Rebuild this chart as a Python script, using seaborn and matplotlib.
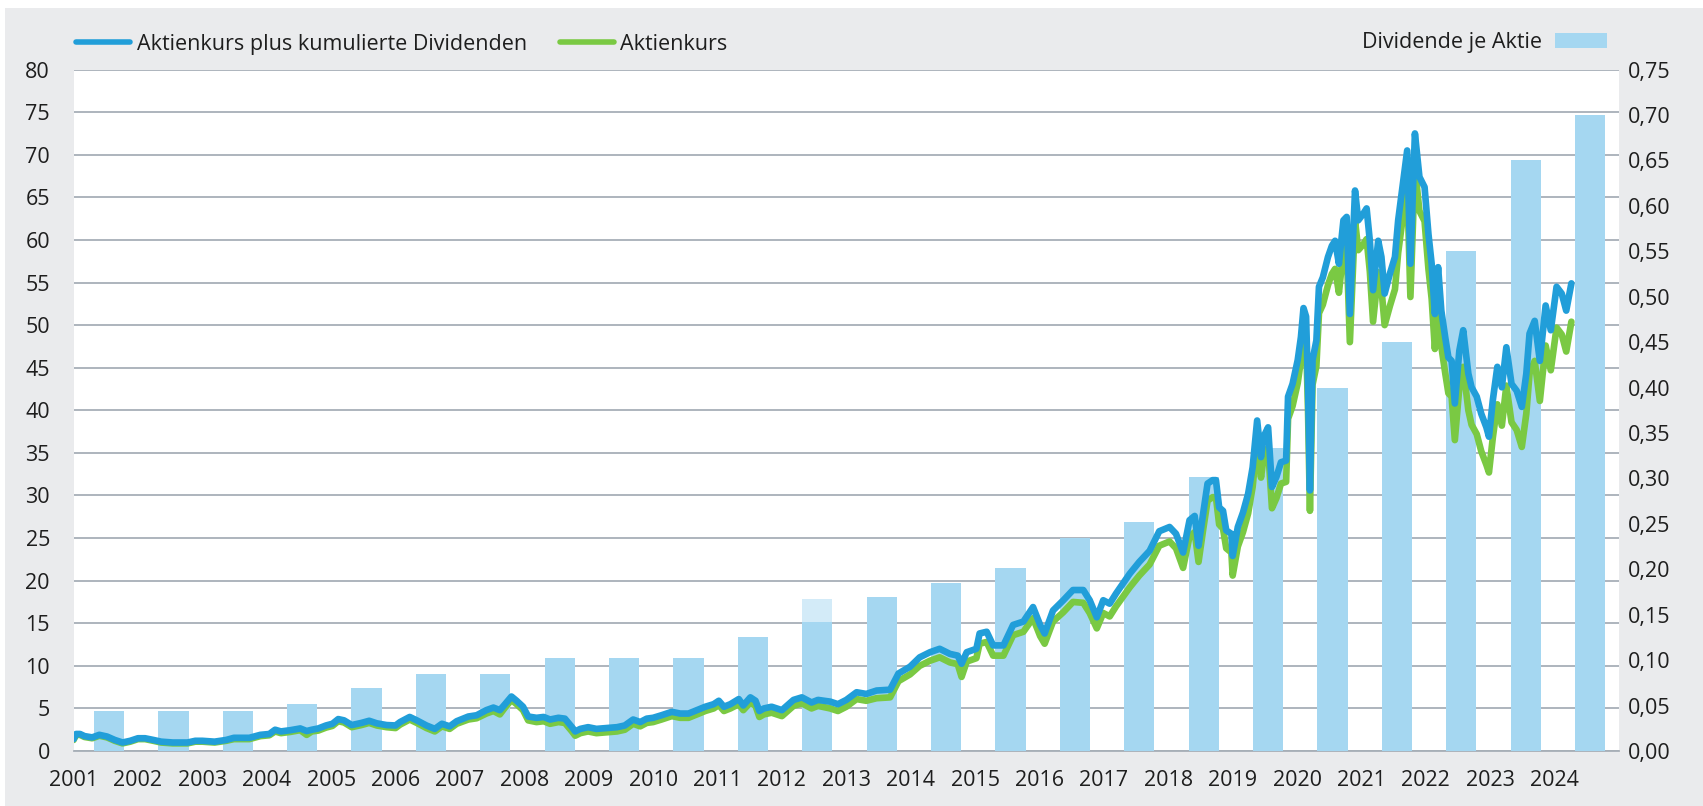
"""
Aktienkurs, Aktienkurs plus kumulierte Dividenden und Dividende je Aktie
"""

import numpy as np
import matplotlib
matplotlib.use('Agg')
import matplotlib.pyplot as plt
from matplotlib.lines import Line2D
from matplotlib.patches import Patch, Rectangle
import seaborn as sns

dates = [
    2001.00, 2001.04, 2001.10, 2001.17, 2001.29, 2001.40, 2001.52, 2001.64, 2001.76, 2001.88,
    2002.00, 2002.11, 2002.24, 2002.36, 2002.54, 2002.77, 2002.89, 2003.00, 2003.19, 2003.37,
    2003.49, 2003.73, 2003.90, 2004.04, 2004.13, 2004.22, 2004.37, 2004.52, 2004.62, 2004.70,
    2004.80, 2004.92, 2005.02, 2005.11, 2005.20, 2005.32, 2005.47, 2005.59, 2005.71, 2005.86,
    2006.00, 2006.07, 2006.22, 2006.33, 2006.48, 2006.61, 2006.72, 2006.84, 2006.95, 2007.13,
    2007.26, 2007.41, 2007.52, 2007.62, 2007.70, 2007.80, 2007.88, 2007.98, 2008.06, 2008.19,
    2008.30, 2008.40, 2008.53, 2008.63, 2008.74, 2008.79, 2008.87, 2008.99, 2009.12, 2009.28,
    2009.44, 2009.56, 2009.69, 2009.80, 2009.90, 2010.00, 2010.13, 2010.29, 2010.42, 2010.55,
    2010.68, 2010.81, 2010.94, 2011.02, 2011.10, 2011.20, 2011.33, 2011.40, 2011.51, 2011.59,
    2011.65, 2011.72, 2011.84, 2012.00, 2012.18, 2012.31, 2012.46, 2012.56, 2012.75, 2012.87,
    2013.00, 2013.16, 2013.31, 2013.47, 2013.68, 2013.81, 2013.99, 2014.14, 2014.30, 2014.45,
    2014.61, 2014.73, 2014.79, 2014.87, 2015.02, 2015.07, 2015.18, 2015.28, 2015.44, 2015.59,
    2015.75, 2015.90, 2016.01, 2016.08, 2016.21, 2016.37, 2016.52, 2016.68, 2016.78, 2016.89,
    2016.99, 2017.09, 2017.19, 2017.40, 2017.55, 2017.71, 2017.86, 2018.02, 2018.12, 2018.23,
    2018.33, 2018.41, 2018.47, 2018.54, 2018.61, 2018.69, 2018.74, 2018.79, 2018.85, 2018.90,
    2018.98, 2019.00, 2019.08, 2019.16, 2019.24, 2019.31, 2019.38, 2019.44, 2019.48, 2019.55,
    2019.61, 2019.68, 2019.75, 2019.83, 2019.86, 2019.93, 2020.01, 2020.06, 2020.10, 2020.14,
    2020.17, 2020.20, 2020.24, 2020.30, 2020.34, 2020.40, 2020.48, 2020.54, 2020.59, 2020.65,
    2020.72, 2020.77, 2020.82, 2020.90, 2020.95, 2021.03, 2021.08, 2021.13, 2021.18, 2021.26,
    2021.31, 2021.36, 2021.44, 2021.52, 2021.57, 2021.65, 2021.71, 2021.76, 2021.83, 2021.90,
    2021.98, 2022.04, 2022.09, 2022.14, 2022.19, 2022.24, 2022.30, 2022.35, 2022.40, 2022.45,
    2022.52, 2022.58, 2022.66, 2022.71, 2022.79, 2022.86, 2022.94, 2022.98, 2023.04, 2023.11,
    2023.18, 2023.25, 2023.33, 2023.41, 2023.49, 2023.56, 2023.61, 2023.69, 2023.77, 2023.86,
    2023.94, 2024.03, 2024.11, 2024.18, 2024.26,
]

kurs_plus_div = [
    1.4, 2.0, 2.0, 1.75, 1.6, 1.9, 1.7, 1.3, 1.0, 1.2,
    1.5, 1.5, 1.3, 1.1, 1.0, 1.0, 1.2, 1.2, 1.1, 1.3,
    1.55, 1.55, 1.9, 2.0, 2.5, 2.3, 2.45, 2.65, 2.35, 2.5,
    2.65, 3.0, 3.2, 3.75, 3.6, 3.05, 3.3, 3.55, 3.25, 3.05,
    3.0, 3.4, 4.0, 3.6, 3.0, 2.6, 3.2, 2.9, 3.5, 4.05,
    4.2, 4.8, 5.1, 4.8, 5.5, 6.4, 5.9, 5.2, 4.05, 3.9,
    4.0, 3.7, 3.9, 3.8, 2.8, 2.3, 2.6, 2.8, 2.6, 2.7,
    2.8, 3.0, 3.7, 3.4, 3.8, 3.9, 4.2, 4.6, 4.4, 4.4,
    4.8, 5.2, 5.5, 5.9, 5.2, 5.5, 6.1, 5.35, 6.3, 5.9,
    4.7, 5.0, 5.2, 4.8, 6.0, 6.3, 5.7, 6.0, 5.8, 5.5,
    6.0, 6.9, 6.7, 7.1, 7.2, 9.1, 9.9, 11.0, 11.6, 12.0,
    11.4, 11.2, 10.25, 11.6, 12.0, 13.8, 14.0, 12.4, 12.4, 14.8,
    15.2, 16.9, 14.8, 13.8, 16.5, 17.7, 18.9, 18.9, 17.7, 15.7,
    17.7, 17.3, 18.5, 20.8, 22.2, 23.5, 25.8, 26.3, 25.5, 23.3,
    27.1, 27.6, 24.1, 27.8, 31.4, 31.8, 31.8, 28.6, 28.2, 25.9,
    25.5, 22.9, 26.3, 28.0, 30.2, 33.3, 38.8, 34.5, 36.9, 38.0,
    31.0, 32.2, 33.9, 34.1, 41.6, 43.1, 45.9, 48.6, 52.0, 51.0,
    42.7, 30.6, 45.9, 48.2, 54.5, 55.6, 58.0, 59.3, 59.9, 57.2,
    62.3, 62.7, 51.3, 65.8, 62.3, 63.1, 63.7, 59.9, 54.1, 59.9,
    58.0, 53.7, 56.0, 58.0, 62.3, 67.0, 70.5, 57.2, 72.5, 67.4,
    66.2, 60.7, 57.2, 51.3, 56.8, 51.7, 48.6, 46.2, 45.8, 40.8,
    47.0, 49.4, 44.3, 42.7, 41.6, 39.6, 38.0, 36.9, 41.2, 45.1,
    42.7, 47.4, 43.1, 42.3, 40.4, 44.3, 49.0, 50.5, 45.8, 52.3,
    49.4, 54.5, 53.7, 51.7, 54.9,
]

kurs = [
    1.3, 1.9, 1.9, 1.65, 1.5, 1.8, 1.6, 1.2, 0.9, 1.1,
    1.4, 1.4, 1.2, 1.0, 0.9, 0.9, 1.1, 1.1, 1.0, 1.2,
    1.4, 1.4, 1.75, 1.85, 2.3, 2.1, 2.25, 2.45, 1.9, 2.3,
    2.4, 2.75, 2.95, 3.5, 3.35, 2.8, 3.05, 3.3, 3.0, 2.8,
    2.7, 3.1, 3.7, 3.3, 2.7, 2.3, 2.9, 2.6, 3.2, 3.7,
    3.85, 4.4, 4.7, 4.3, 5.1, 6.0, 5.5, 4.8, 3.6, 3.4,
    3.5, 3.2, 3.4, 3.3, 2.3, 1.8, 2.1, 2.3, 2.1, 2.2,
    2.3, 2.5, 3.2, 2.9, 3.3, 3.4, 3.7, 4.1, 3.9, 3.9,
    4.3, 4.7, 5.0, 5.4, 4.7, 5.0, 5.5, 4.8, 5.7, 5.3,
    4.0, 4.3, 4.5, 4.1, 5.3, 5.6, 5.0, 5.3, 5.0, 4.7,
    5.2, 6.1, 5.9, 6.2, 6.3, 8.2, 9.0, 10.0, 10.6, 11.0,
    10.4, 10.2, 8.7, 10.5, 10.9, 12.6, 12.8, 11.2, 11.2, 13.6,
    14.0, 15.6, 13.5, 12.6, 15.2, 16.3, 17.5, 17.4, 16.2, 14.4,
    16.2, 15.8, 17.0, 19.2, 20.6, 21.9, 24.1, 24.6, 23.8, 21.5,
    25.2, 25.7, 22.2, 25.9, 29.4, 29.8, 29.8, 26.6, 26.1, 23.8,
    23.3, 20.6, 24.0, 25.7, 27.9, 31.0, 36.4, 32.1, 34.5, 35.6,
    28.5, 29.7, 31.4, 31.6, 39.0, 40.5, 43.2, 45.9, 49.2, 48.2,
    40.0, 28.2, 43.0, 45.2, 51.4, 52.4, 54.7, 56.0, 56.6, 53.8,
    58.9, 59.2, 48.0, 62.3, 58.8, 59.5, 60.1, 56.3, 50.4, 56.2,
    54.3, 50.0, 52.2, 54.2, 58.5, 63.1, 66.6, 53.3, 68.5, 63.4,
    62.2, 56.6, 53.1, 47.2, 52.7, 47.5, 44.4, 42.0, 41.6, 36.5,
    42.7, 45.1, 40.0, 38.3, 37.2, 35.2, 33.6, 32.7, 36.8, 40.7,
    38.2, 42.9, 38.6, 37.7, 35.7, 39.6, 44.3, 45.8, 41.1, 47.6,
    44.7, 49.7, 48.9, 46.9, 50.4,
]

div_years = list(range(2001, 2025))
dividende = [
    0.044, 0.044, 0.044, 0.052, 0.069, 0.085, 0.085, 0.102, 0.102, 0.102,
    0.126, 0.142, 0.169, 0.185, 0.201, 0.235, 0.252, 0.302, 0.333, 0.40,
    0.45, 0.55, 0.65, 0.70,
]
sonder_jahr = [2012]
sonder_dividende = [0.025]
sonder_basis = [0.142]

left_ticks = list(range(0, 85, 5))
right_ticks = [round(0.05 * i, 2) for i in range(16)]

BLUE = '#219ED9'
GREEN = '#7AC943'
BAR = '#A5D7F1'
BAR_LIGHT = '#D3EBF8'
GRID = '#A7AFB7'
PANEL = '#EAEBED'
TEXT = '#1E1E1E'
FS = 15.5


def plot_chart():
    sns.set_style('white')
    plt.rcParams['font.family'] = ['Open Sans', 'DejaVu Sans']
    plt.rcParams['font.size'] = FS

    fig = plt.figure(figsize=(17.03, 8.06), dpi=100)
    fig.patches.append(Rectangle((0.003, 0.0), 0.997, 0.99, transform=fig.transFigure,
                                 facecolor=PANEL, edgecolor='none', zorder=-10))

    rect = [0.0432, 0.0682, 0.9075, 0.8455]
    ax = fig.add_axes(rect)
    ax.set_facecolor('white')

    # Gitternetz (linke Skala)
    ax.set_ylim(0, 80)
    ax.set_xlim(2001, 2025)
    ax.set_yticks(left_ticks)
    ax.set_yticklabels([str(t) for t in left_ticks], color=TEXT)
    ax.yaxis.grid(True, color=GRID, linewidth=1.3)
    ax.xaxis.grid(False)
    ax.set_xticks(range(2001, 2026))
    ax.set_xticklabels([str(y) for y in range(2001, 2025)] + [''], color=TEXT)
    ax.tick_params(axis='y', length=0, pad=17, labelsize=FS)
    ax.tick_params(axis='x', length=6, width=1.2, color=GRID, pad=8, labelsize=FS,
                   direction='out')
    for s in ['top', 'left', 'right']:
        ax.spines[s].set_visible(False)
    ax.spines['bottom'].set_color(GRID)
    ax.spines['bottom'].set_linewidth(1.3)

    # Balken (rechte Skala)
    ax_bar = ax.twinx()
    bx = np.array(div_years) + 0.55
    ax_bar.bar(bx, dividende, width=0.47, color=BAR, linewidth=0)
    ax_bar.bar(np.array(sonder_jahr) + 0.55, sonder_dividende, bottom=sonder_basis,
               width=0.47, color=BAR_LIGHT, linewidth=0)
    ax_bar.set_ylim(0, 0.75)
    ax_bar.set_yticks(right_ticks)
    ax_bar.set_yticklabels([f"{t:.2f}".replace('.', ',') for t in right_ticks], color=TEXT)
    ax_bar.tick_params(axis='y', length=0, pad=6, labelsize=FS)
    for s in ax_bar.spines.values():
        s.set_visible(False)

    # Linien (linke Skala)
    ax_line = ax.twinx()
    ax_line.set_ylim(0, 80)
    sns.lineplot(x=dates, y=kurs, ax=ax_line, color=GREEN, linewidth=4.8)
    sns.lineplot(x=dates, y=kurs_plus_div, ax=ax_line, color=BLUE, linewidth=4.8)
    ax_line.set_xlim(2001, 2025)
    ax_line.set_yticks([])
    ax_line.set_ylabel('')
    for s in ax_line.spines.values():
        s.set_visible(False)

    # Legenden
    handles = [Line2D([], [], color=BLUE, linewidth=4),
               Line2D([], [], color=GREEN, linewidth=4)]
    fig.legend(handles, ['Aktienkurs plus kumulierte Dividenden', 'Aktienkurs'],
               loc='center left', bbox_to_anchor=(0.0335, 0.945), ncol=2, frameon=False,
               handlelength=2.5, handletextpad=0.3, columnspacing=1.55, fontsize=FS,
               labelcolor=TEXT)
    fig.legend([Patch(facecolor=BAR, edgecolor='none')], ['Dividende je Aktie'],
               loc='center right', bbox_to_anchor=(0.955, 0.947), frameon=False,
               markerfirst=False, handlelength=2.4, handleheight=0.7,
               handletextpad=0.6, fontsize=FS, labelcolor=TEXT)

    fig.savefig('out.png', dpi=100, facecolor='white')
    print("Chart gespeichert: out.png")


if __name__ == "__main__":
    plot_chart()
